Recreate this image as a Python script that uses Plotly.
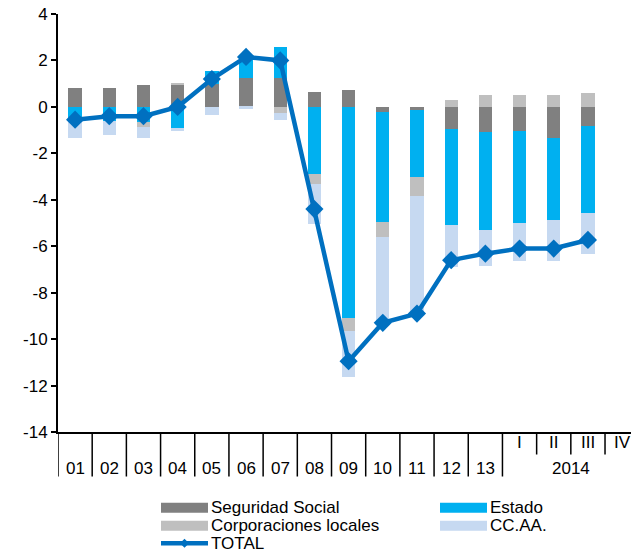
import plotly.graph_objects as go

# Categories: years 2001-2013 and the four quarters of 2014
categories = ["01", "02", "03", "04", "05", "06", "07", "08", "09", "10", "11", "12", "13",
              "I", "II", "III", "IV"]
year_group_label = "2014"
quarter_labels = ["I", "II", "III", "IV"]

# Contributions by sub-sector (% of GDP)
seguridad_social = [0.80, 0.80, 0.95, 0.95, 1.00, 1.24, 1.24, 0.65, 0.72, -0.20, -0.14,
                    -0.96, -1.10, -1.02, -1.32, -0.81, None]
estado = [-0.55, -0.60, -0.63, -0.92, 0.55, 0.97, 1.33, -2.90, -9.08, -4.74, -2.89,
          -4.13, -4.20, -3.97, -3.55, -3.75, None]
corporaciones_locales = [0.00, 0.00, -0.22, 0.07, 0.00, 0.00, -0.26, -0.42, -0.58, -0.65, -0.81,
                         0.30, 0.50, 0.52, 0.52, 0.59, None]
ccaa = [-0.80, -0.60, -0.50, -0.10, -0.35, -0.07, -0.31, -1.72, -1.96, -3.71, -5.06,
        -1.81, -1.54, -1.63, -1.77, -1.78, None]
total = [-0.55, -0.40, -0.40, 0.00, 1.20, 2.15, 2.00, -4.40, -10.95, -9.30, -8.90,
         -6.60, -6.32, -6.10, -6.10, -5.73, None]

y_tick_values = [4, 2, 0, -2, -4, -6, -8, -10, -12, -14]
y_tick_text = ["4", "2", "0", "-2", "-4", "-6", "-8", "-10", "-12", "-14"]

series = [
    ("Seguridad Social", seguridad_social, "#808080"),
    ("Estado", estado, "#00B0F0"),
    ("Corporaciones locales", corporaciones_locales, "#BFBFBF"),
    ("CC.AA.", ccaa, "#C6D9F1"),
]
total_name = "TOTAL"
total_color = "#0070C0"

W, H = 631, 554
L, R, T, B = 58, 0, 14, 122
PLOT_W = W - L - R
PLOT_H = H - T - B
FONT = "Liberation Sans, Arial, sans-serif"
FS = 17


def px_x(X):
    return (X - L) / PLOT_W


def px_y(Y):
    return (H - B - Y) / PLOT_H


fig = go.Figure()
for name, vals, color in series:
    fig.add_trace(go.Bar(x=categories, y=vals, name=name, width=0.39,
                         marker=dict(color=color, line=dict(width=0)),
                         showlegend=False))

fig.add_trace(go.Scatter(x=categories, y=total, name=total_name, mode="lines+markers",
                         line=dict(color=total_color, width=4.5),
                         marker=dict(symbol="diamond", size=14, color=total_color),
                         showlegend=False))

shapes = []
annotations = []

# Category separators below the x axis
n = len(categories)
first_quarter = categories.index(quarter_labels[0])
for k in range(n + 1):
    xb = k - 0.5
    if xb > 16.26:
        continue
    long_tick = k <= first_quarter
    shapes.append(dict(type="line", xref="x", yref="paper", x0=xb, x1=xb,
                       y0=0, y1=px_y(476.5 if long_tick else 454.5),
                       line=dict(color="black", width=1.5)))

# Category labels: years on the lower row, quarters on the upper row
for i, c in enumerate(categories):
    if c in quarter_labels:
        y = px_y(442.5)
    else:
        y = px_y(468)
    annotations.append(dict(x=i, y=y, xref="x", yref="paper", text=c, showarrow=False,
                            xanchor="center", yanchor="middle",
                            font=dict(family=FONT, size=FS, color="black")))
annotations.append(dict(x=(first_quarter + n - 1) / 2, y=px_y(468), xref="x", yref="paper",
                        text=year_group_label, showarrow=False, xanchor="center",
                        yanchor="middle", font=dict(family=FONT, size=FS, color="black")))

# Legend (two columns, wide swatches)
legend_rows = [507.7, 525.7, 543.3]
col_x = [161, 440]
sw = 47
for idx, (name, vals, color) in enumerate(series):
    row, col = divmod(idx, 2)
    yc = legend_rows[row]
    x0 = col_x[col]
    shapes.append(dict(type="rect", xref="paper", yref="paper",
                       x0=px_x(x0), x1=px_x(x0 + sw), y0=px_y(yc + 5), y1=px_y(yc - 5),
                       fillcolor=color, line=dict(width=0)))
    annotations.append(dict(x=px_x(x0 + sw + 1), y=px_y(yc), xref="paper", yref="paper",
                            text=name, showarrow=False, xanchor="left", yanchor="middle",
                            font=dict(family=FONT, size=FS, color="black")))

yc = legend_rows[2]
x0 = col_x[0]
shapes.append(dict(type="line", xref="paper", yref="paper",
                   x0=px_x(x0), x1=px_x(x0 + sw), y0=px_y(yc), y1=px_y(yc),
                   line=dict(color=total_color, width=4.5)))
xm = x0 + sw / 2
d = 4.5
shapes.append(dict(type="path", xref="paper", yref="paper",
                   path=f"M{px_x(xm - d)},{px_y(yc)} L{px_x(xm)},{px_y(yc - d)} "
                        f"L{px_x(xm + d)},{px_y(yc)} L{px_x(xm)},{px_y(yc + d)} Z",
                   fillcolor=total_color, line=dict(width=0)))
annotations.append(dict(x=px_x(x0 + sw + 1), y=px_y(yc), xref="paper", yref="paper",
                        text=total_name, showarrow=False, xanchor="left", yanchor="middle",
                        font=dict(family=FONT, size=FS, color="black")))

fig.update_layout(
    width=W, height=H,
    margin=dict(l=L, r=R, t=T, b=B, pad=0),
    paper_bgcolor="white", plot_bgcolor="white",
    barmode="relative", bargap=0,
    shapes=shapes, annotations=annotations,
    showlegend=False,
    xaxis=dict(type="category", categoryorder="array", categoryarray=categories,
               range=[-0.5, 16.26], showticklabels=False, ticks="",
               showline=True, linecolor="black", linewidth=2, showgrid=False,
               zeroline=False, fixedrange=True),
    yaxis=dict(range=[-14, 4], tickvals=y_tick_values, ticktext=y_tick_text,
               ticks="outside", ticklen=5, tickwidth=1.5, tickcolor="black",
               showline=True, linecolor="black", linewidth=2, showgrid=False,
               zeroline=False, tickfont=dict(family=FONT, size=FS, color="black"),
               fixedrange=True),
)

fig.write_html("out.html")
